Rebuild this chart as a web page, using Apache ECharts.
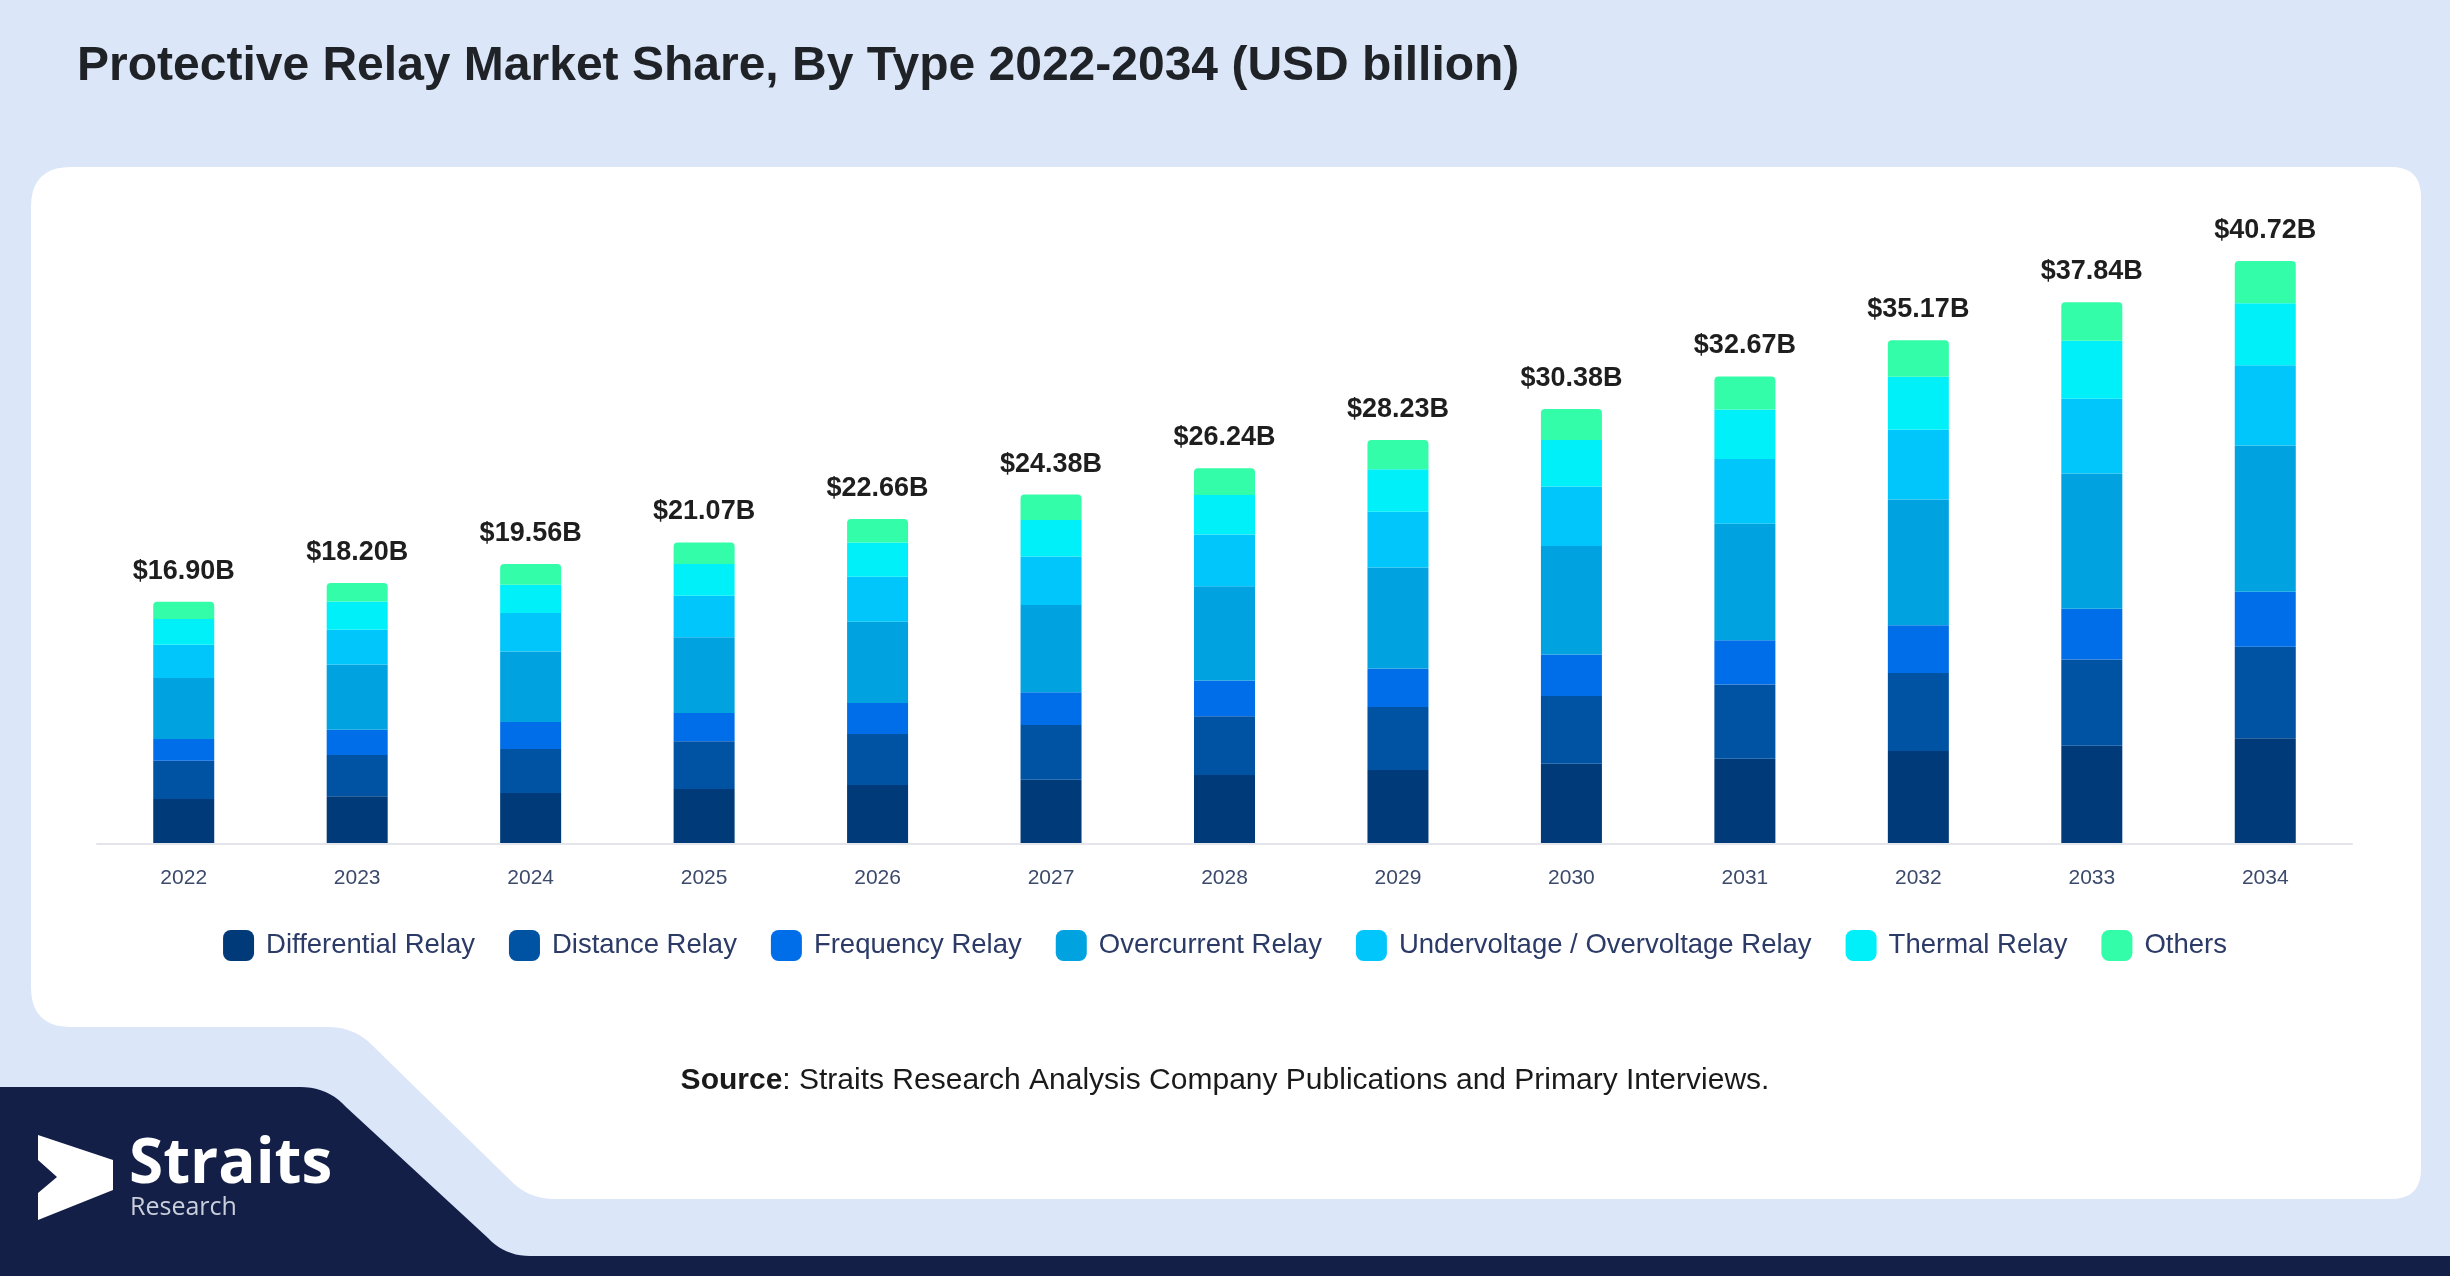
<!DOCTYPE html>
<html><head><meta charset="utf-8">
<script src="https://cdn.jsdelivr.net/npm/echarts@6/dist/echarts.min.js"></script>
<style>html,body{margin:0;padding:0;background:#dbe7f8;}#c{width:2450px;height:1276px;}</style>
</head><body><div id="c"></div>
<script>
const years = ['2022','2023','2024','2025','2026','2027','2028','2029','2030','2031','2032','2033','2034'];
const totals = [16.90, 18.20, 19.56, 21.07, 22.66, 24.38, 26.24, 28.23, 30.38, 32.67, 35.17, 37.84, 40.72];
const differential = [3.14, 3.33, 3.56, 3.84, 4.12, 4.49, 4.82, 5.17, 5.60, 5.96, 6.49, 6.86, 7.39];
const distance     = [2.68, 2.89, 3.07, 3.33, 3.56, 3.82, 4.10, 4.40, 4.74, 5.17, 5.46, 6.02, 6.39];
const frequency    = [1.51, 1.75, 1.89, 1.98, 2.16, 2.28, 2.49, 2.69, 2.89, 3.10, 3.32, 3.55, 3.83];
const overcurrent  = [4.26, 4.56, 4.93, 5.28, 5.68, 6.10, 6.59, 7.05, 7.58, 8.13, 8.78, 9.45, 10.22];
const undervoltage = [2.33, 2.44, 2.68, 2.91, 3.14, 3.38, 3.61, 3.90, 4.16, 4.52, 4.88, 5.21, 5.61];
const thermal      = [1.79, 1.96, 1.98, 2.21, 2.40, 2.56, 2.77, 2.96, 3.25, 3.46, 3.70, 4.05, 4.33];
const others       = [1.21, 1.30, 1.44, 1.51, 1.63, 1.77, 1.86, 2.04, 2.16, 2.31, 2.55, 2.70, 2.95];

const seriesNames = ['Differential Relay','Distance Relay','Frequency Relay','Overcurrent Relay','Undervoltage / Overvoltage Relay','Thermal Relay','Others'];
const seriesData = [differential, distance, frequency, overcurrent, undervoltage, thermal, others];
const colors = ['#013a78','#0052a3','#006ee9','#00a3e0','#00c6fb','#00f0fa','#33fda8'];

const FONT = '"Liberation Sans", Arial, sans-serif';

// helper: build a polygon outline from straight segments and quadratic corners
function outline(cmds) {
  const pts = [];
  let cur = null;
  cmds.forEach(c => {
    if (c[0] === 'L') { cur = [c[1], c[2]]; pts.push(cur); }
    else if (c[0] === 'Q') {
      const cx = c[1], cy = c[2], x1 = c[3], y1 = c[4];
      const x0 = cur[0], y0 = cur[1];
      for (let k = 1; k <= 10; k++) {
        const t = k / 10, u = 1 - t;
        pts.push([u*u*x0 + 2*u*t*cx + t*t*x1, u*u*y0 + 2*u*t*cy + t*t*y1]);
      }
      cur = [x1, y1];
    }
  });
  return pts;
}

const cardPts = outline([
  ['L',71,167],['L',2391,167],['Q',2421,167,2421,197],['L',2421,1169],['Q',2421,1199,2391,1199],
  ['L',555,1199],['Q',528,1199,510,1180],['L',372,1045],['Q',354,1027,328,1027],
  ['L',71,1027],['Q',31,1027,31,987],['L',31,207],['Q',31,167,71,167]
]);
const navyPts = outline([
  ['L',0,1087],['L',300,1087],['Q',328,1087,346,1107],['L',488,1238],['Q',505,1256,530,1256],
  ['L',2450,1256],['L',2450,1276],['L',0,1276]
]);

const chart = echarts.init(document.getElementById('c'));

const series = seriesNames.map((name, i) => {
  const s = {
    name: name,
    type: 'bar',
    stack: 'total',
    barWidth: 61,
    data: seriesData[i],
    itemStyle: { color: colors[i] },
    emphasis: { disabled: true }
  };
  if (i === seriesNames.length - 1) {
    s.itemStyle.borderRadius = [4, 4, 0, 0];
    s.label = {
      show: true,
      position: 'top',
      distance: 17,
      fontFamily: FONT,
      fontSize: 27,
      fontWeight: 'bold',
      color: '#1e1e1e',
      formatter: p => '$' + totals[p.dataIndex].toFixed(2) + 'B'
    };
  }
  return s;
});

chart.setOption({
  backgroundColor: '#dbe7f8',
  animation: false,
  color: colors,
  title: {
    text: 'Protective Relay Market Share, By Type 2022-2034 (USD billion)',
    left: 77,
    top: 43,
    padding: 0,
    textStyle: { fontFamily: FONT, fontSize: 48, fontWeight: 'bold', color: '#1f2328' }
  },
  graphic: [
    { type: 'polygon', z: -10, shape: { points: cardPts }, style: { fill: '#ffffff' } },
    { type: 'polygon', z: -10, shape: { points: navyPts }, style: { fill: '#131f47' } },
    {
      type: 'polygon', z: -5,
      shape: { points: [[38,1135],[113,1160],[113,1190],[38,1220],[38,1193],[57,1177],[38,1160]] },
      style: { fill: '#ffffff' }
    },
    {
      type: 'text', z: -5, x: 129, y: 1165,
      style: { text: 'Straits', fill: '#ffffff', font: 'bold 62px "Open Sans", sans-serif', verticalAlign: 'middle', align: 'left' }
    },
    {
      type: 'text', z: -5, x: 130, y: 1208,
      style: { text: 'Research', fill: '#c9cfdb', font: '25px "Open Sans", sans-serif', verticalAlign: 'middle', align: 'left' }
    },
    {
      type: 'text', z: -5, x: 1225, y: 1081,
      style: {
        text: '{b|Source}: Straits Research Analysis Company Publications and Primary Interviews.',
        fill: '#1a1a1a',
        fontFamily: FONT,
        fontSize: 30,
        align: 'center',
        verticalAlign: 'middle',
        rich: { b: { fontWeight: 'bold', fontFamily: FONT, fontSize: 30, fill: '#1a1a1a' } }
      }
    }
  ],
  legend: {
    data: seriesNames,
    left: 'center',
    top: 925,
    icon: 'roundRect',
    itemWidth: 31,
    itemHeight: 31,
    itemGap: 34,
    selectedMode: false,
    textStyle: { fontFamily: FONT, fontSize: 27.5, color: '#2b3a67', padding: [0, 0, 0, 7] }
  },
  grid: { left: 97, right: 98, top: 199.6, bottom: 432, containLabel: false },
  xAxis: {
    type: 'category',
    data: years,
    z: 5,
    axisTick: { show: false },
    axisLine: { show: true, lineStyle: { color: '#e3e5ea', width: 2 } },
    axisLabel: { margin: 24, fontFamily: FONT, fontSize: 21, color: '#3b4a6b' }
  },
  yAxis: {
    type: 'value',
    min: 0,
    max: 45,
    show: false,
    splitLine: { show: false }
  },
  series: series
});
</script>
</body></html>
